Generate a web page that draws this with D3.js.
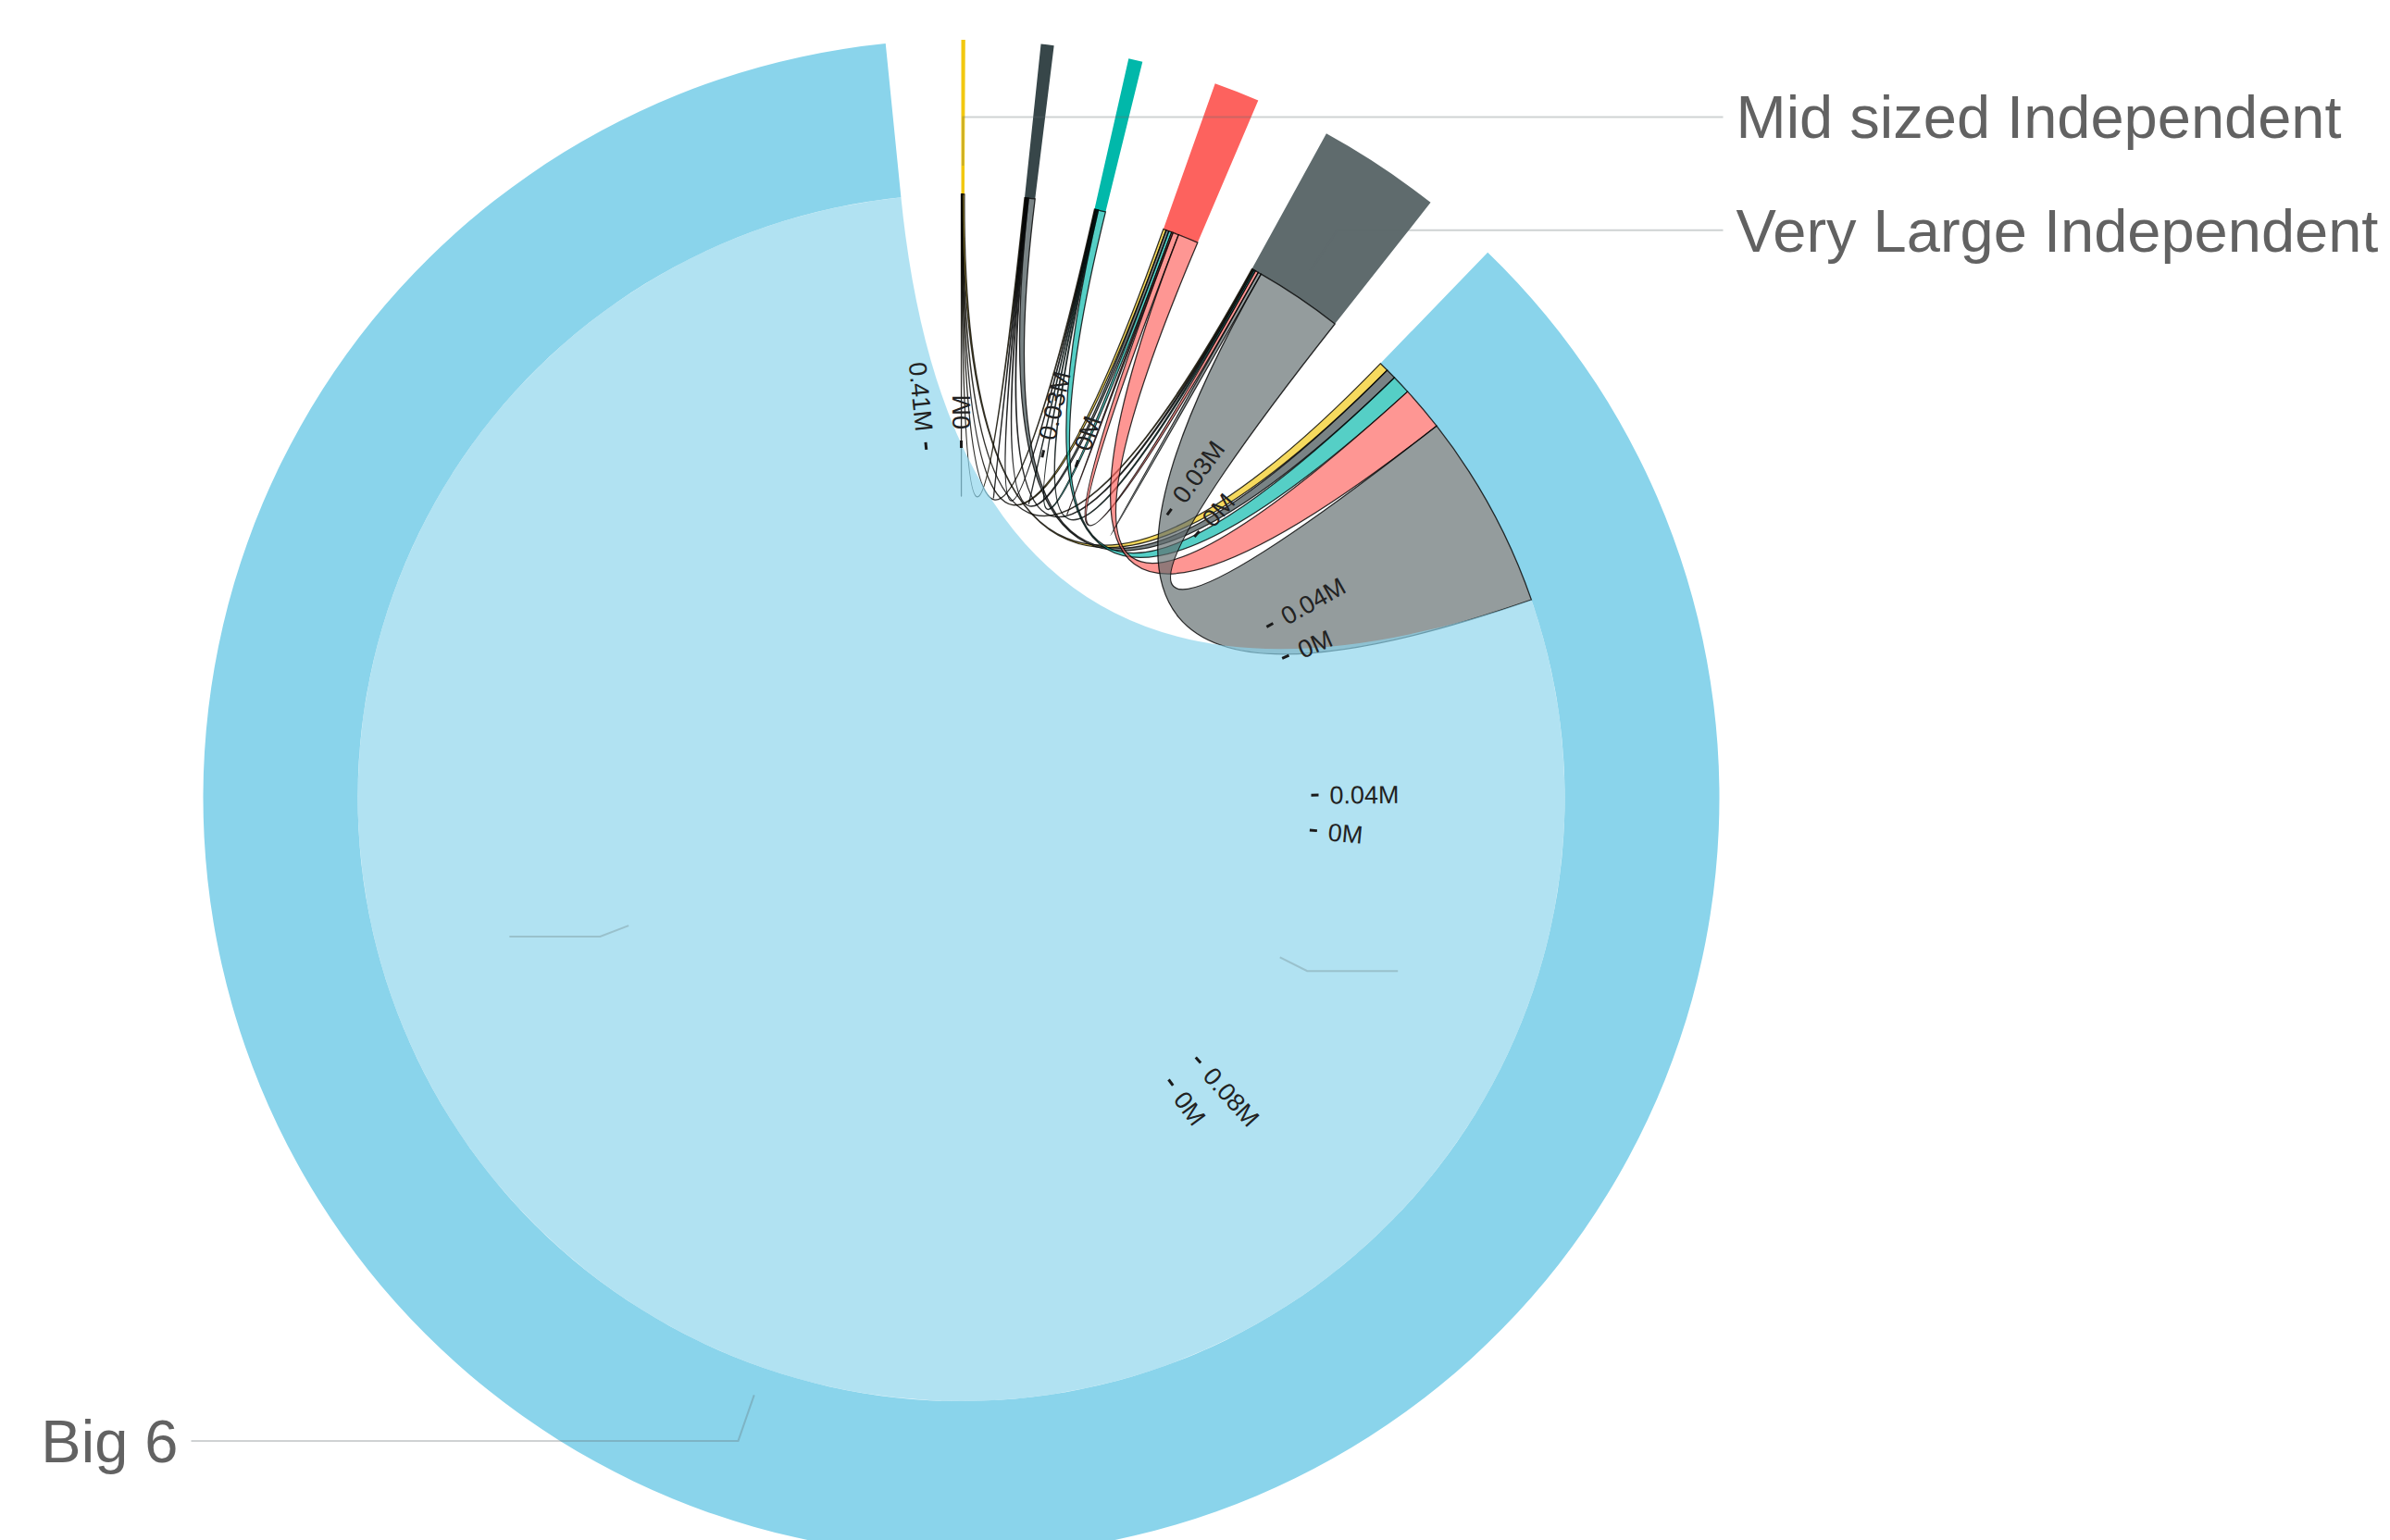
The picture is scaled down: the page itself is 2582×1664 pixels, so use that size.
<!DOCTYPE html>
<html>
<head>
<meta charset="utf-8">
<script src="https://cdn.jsdelivr.net/npm/d3@7"></script>
<style>
  html, body { margin: 0; padding: 0; background: #ffffff; }
  svg { display: block; }
</style>
</head>
<body>
<script>
// ---------------- DATA ----------------
const groupNames = ["Mid sized Independent", "Small Independent", "Micro Independent",
                    "Large Independent", "Very Large Independent", "Big 6"];
const showLabel = [true, false, false, false, true, true];
const groupColors = ["#F2C80F", "#374649", "#01B8AA", "#FD625E", "#5F6B6D", "#8AD4EB"];

// flow matrix rows (thousands), row i -> column j
const rowMidSized   = [0.03, 0.04, 0.04, 0.04, 0.05, 0.23];
const rowSmall      = [0.10, 0.10, 0.10, 0.12, 0.12, 0.88];
const rowMicro      = [0.10, 0.10, 0.10, 0.12, 0.12, 1.00];
const rowLarge      = [0.40, 0.40, 0.40, 0.20, 0.80, 2.80];
const rowVeryLarge  = [0.14, 0.21, 0.21, 0.43, 0.43, 12.1];
const rowBig6       = [1.3, 1.4, 2.6, 6.1, 27, 405];

// tick totals (millions) shown by the tick ring
const tickTotals = [0.026, 0.033, 0.037, 0.0449, 0.083, 0.41];

// ---------------- LAYOUT ----------------
const W = 2582, H = 1664;
const cx = 1038.5, cy = 862;
const innerR = 652, outerR = 819;
const tickR = 378;
const pad = 0.1;

const matrix = [rowMidSized, rowSmall, rowMicro, rowLarge, rowVeryLarge, rowBig6];

const svg = d3.select("body").append("svg")
  .attr("width", W).attr("height", H)
  .style("background", "#fff");

const root = svg.append("g").attr("transform", `translate(${cx},${cy})`);

const chords = d3.chord().padAngle(pad)(matrix);

const arc = d3.arc().innerRadius(innerR).outerRadius(outerR);
const ribbon = d3.ribbon().radius(innerR);

const polar = (a, r) => [r * Math.sin(a), -r * Math.cos(a)];

// group arcs
root.append("g").selectAll("path")
  .data(chords.groups)
  .join("path")
  .attr("d", arc)
  .attr("fill", d => groupColors[d.index]);

// ribbons
root.append("g").selectAll("path")
  .data(chords)
  .join("path")
  .attr("d", ribbon)
  .attr("fill", d => groupColors[Math.min(d.source.index, d.target.index)])
  .attr("fill-opacity", 0.67)
  .attr("stroke", d => d.source.index === d.target.index && d.source.index === 5 ? "none" : "#000")
  .attr("stroke-opacity", 0.8)
  .attr("stroke-width", 1.3);

// tick ring layout
const tickScale = d3.scaleLinear()
  .domain([0, d3.sum(tickTotals)])
  .range([0, 2 * Math.PI - pad * tickTotals.length]);
const fmt = v => v === 0 ? "0M" : d3.format(".2f")(v) + "M";
const ticks = [];
const tickGroups = [];
let cum = 0;
tickTotals.forEach((v, i) => {
  const a0 = tickScale(cum) + i * pad, a1 = tickScale(cum + v) + i * pad;
  ticks.push({ angle: a0, label: fmt(0) });
  ticks.push({ angle: a1, label: fmt(v) });
  tickGroups.push({ startAngle: a0, endAngle: a1 });
  cum += v;
});

const lineColor = "#5F6B6D";

// faint inner leader lines of the tick ring (only for the wider segments)
tickGroups.forEach(g => {
  if (g.endAngle - g.startAngle < 0.7) return;
  const mid = (g.startAngle + g.endAngle) / 2;
  const p0 = polar(mid, 385);
  const p1 = polar(mid, 418);
  const dir = Math.sin(mid) >= 0 ? 1 : -1;
  root.append("polyline")
    .attr("points", [p0, p1, [p1[0] + dir * 98, p1[1]]].map(p => p.join(",")).join(" "))
    .attr("fill", "none")
    .attr("stroke", lineColor)
    .attr("stroke-opacity", 0.28)
    .attr("stroke-width", 2);
});

const tg = root.append("g").selectAll("g")
  .data(ticks)
  .join("g")
  .attr("transform", d => `rotate(${d.angle * 180 / Math.PI - 90}) translate(${tickR},0)`);
tg.append("line")
  .attr("x1", 0).attr("x2", 8)
  .attr("stroke", "#1a1a1a")
  .attr("stroke-width", 3);
tg.append("text")
  .attr("x", 20)
  .attr("dy", "0.35em")
  .attr("transform", d => d.angle > Math.PI ? "rotate(180) translate(-40)" : null)
  .attr("text-anchor", d => d.angle > Math.PI ? "end" : "start")
  .attr("font-family", "'Liberation Sans', Arial, Helvetica, sans-serif")
  .attr("font-size", 27)
  .attr("fill", "#222")
  .text(d => d.label);

// leader lines (semi-transparent, drawn over arcs) and labels
const labelGap = 14;
const reachRight = 823, reachLeft = 832;
chords.groups.forEach(g => {
  if (!showLabel[g.index]) return;
  const mid = (g.startAngle + g.endAngle) / 2;
  const p0 = polar(mid, 683);
  const p1 = polar(mid, (innerR + outerR) / 2);
  const right = Math.sin(mid) >= 0;
  const xEnd = right ? reachRight : -reachLeft;
  root.append("polyline")
    .attr("points", [p0, p1, [xEnd, p1[1]]].map(p => p.join(",")).join(" "))
    .attr("fill", "none")
    .attr("stroke", lineColor)
    .attr("stroke-opacity", 0.3)
    .attr("stroke-width", 2);
  root.append("text")
    .attr("x", right ? xEnd + labelGap : xEnd - labelGap)
    .attr("y", p1[1])
    .attr("dy", "0.35em")
    .attr("text-anchor", right ? "start" : "end")
    .attr("font-family", "'Liberation Sans', Arial, Helvetica, sans-serif")
    .attr("font-size", 65)
    .attr("fill", "#626262")
    .text(groupNames[g.index]);
});
</script>
</body>
</html>
